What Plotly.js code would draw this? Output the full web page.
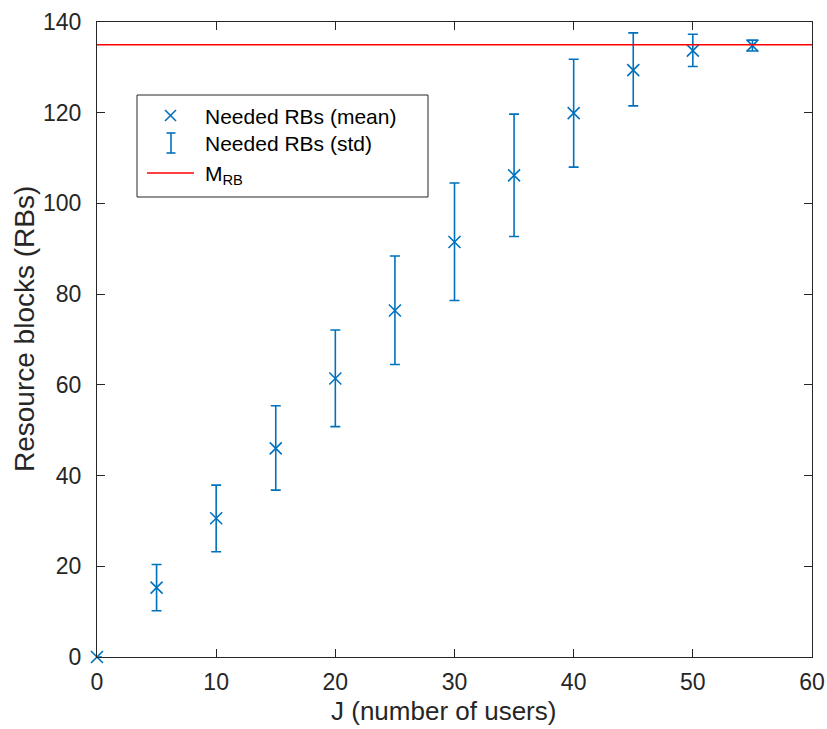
<!DOCTYPE html>
<html>
<head>
<meta charset="utf-8">
<script src="https://cdn.plot.ly/plotly-3.0.1.min.js"></script>
<style>html,body{margin:0;padding:0;background:#fff;}#chart{width:827px;height:729px;}</style>
</head>
<body>
<div id="chart"></div>
<script>
// Data
var users = [0, 5, 10, 15, 20, 25, 30, 35, 40, 45, 50, 55];
var meanRBs = [0, 15.3, 30.6, 46.0, 61.4, 76.4, 91.5, 106.2, 119.9, 129.4, 133.7, 134.8];
var upperRBs = [0, 20.4, 37.9, 55.4, 72.1, 88.4, 104.5, 119.7, 131.8, 137.6, 137.3, 136.0];
var lowerRBs = [0, 10.2, 23.2, 36.8, 50.8, 64.5, 78.6, 92.7, 108.0, 121.5, 130.2, 133.6];
var mRBx = [0, 60];
var mRBy = [135, 135];
var xTicks = [0, 10, 20, 30, 40, 50, 60];
var yTicks = [0, 20, 40, 60, 80, 100, 120, 140];
var xTitle = 'J (number of users)';
var yTitle = 'Resource blocks (RBs)';
var legendLabels = ['Needed RBs (mean)', 'Needed RBs (std)', 'M<sub>RB</sub>'];

var blue = '#0072BD';
var errPlus = upperRBs.map(function(u, i){ return u - meanRBs[i]; });
var errMinus = lowerRBs.map(function(l, i){ return meanRBs[i] - l; });

var traces = [
  {
    x: users, y: meanRBs, type: 'scatter', mode: 'markers', cliponaxis: false,
    marker: {color: 'rgba(0,0,0,0)', size: 1},
    error_y: {type: 'data', symmetric: false, array: errPlus, arrayminus: errMinus,
              color: blue, thickness: 1.6, width: 5},
    showlegend: false, hoverinfo: 'skip'
  },
  {
    x: users, y: meanRBs, type: 'scatter', mode: 'markers', cliponaxis: false,
    marker: {symbol: 'x-thin-open', size: 12, color: blue, line: {color: blue, width: 1.6}},
    showlegend: false
  },
  {
    x: mRBx, y: mRBy, type: 'scatter', mode: 'lines',
    line: {color: '#FF0000', width: 1.6}, showlegend: false
  }
];

// Manual MATLAB-style legend (paper coordinates derived from pixel geometry)
var L = 97, R = 812, T = 22, B = 657;
function px(x){ return (x - L) / (R - L); }
function py(y){ return (B - y) / (B - T); }

var shapes = [
  {type: 'rect', xref: 'paper', yref: 'paper', x0: px(137), x1: px(428), y0: py(197), y1: py(95),
   line: {color: '#262626', width: 1}, fillcolor: 'white', layer: 'above'},
  // x marker for mean
  {type: 'line', xref: 'paper', yref: 'paper', x0: px(165), x1: px(176), y0: py(110), y1: py(121), line: {color: blue, width: 1.6}},
  {type: 'line', xref: 'paper', yref: 'paper', x0: px(165), x1: px(176), y0: py(121), y1: py(110), line: {color: blue, width: 1.6}},
  // I symbol for std
  {type: 'line', xref: 'paper', yref: 'paper', x0: px(171), x1: px(171), y0: py(133), y1: py(153), line: {color: blue, width: 1.6}},
  {type: 'line', xref: 'paper', yref: 'paper', x0: px(166.5), x1: px(175.5), y0: py(133), y1: py(133), line: {color: blue, width: 1.6}},
  {type: 'line', xref: 'paper', yref: 'paper', x0: px(166.5), x1: px(175.5), y0: py(153), y1: py(153), line: {color: blue, width: 1.6}},
  // red line for M_RB
  {type: 'line', xref: 'paper', yref: 'paper', x0: px(147), x1: px(194), y0: py(173), y1: py(173), line: {color: '#FF0000', width: 1.6}}
];

var fam = 'Liberation Sans, Arial, sans-serif';
var legFont = {family: fam, size: 21, color: '#000'};
var annotations = [
  {xref: 'paper', yref: 'paper', x: px(203), y: py(116), xanchor: 'left', yanchor: 'middle', text: legendLabels[0], showarrow: false, font: legFont},
  {xref: 'paper', yref: 'paper', x: px(203), y: py(143), xanchor: 'left', yanchor: 'middle', text: legendLabels[1], showarrow: false, font: legFont},
  {xref: 'paper', yref: 'paper', x: px(203), y: py(175), xanchor: 'left', yanchor: 'middle', text: legendLabels[2], showarrow: false, font: legFont},
  // axis titles
  {xref: 'paper', yref: 'paper', x: px(443), y: py(711), xanchor: 'center', yanchor: 'middle', text: xTitle, showarrow: false,
   font: {family: fam, size: 26, color: '#262626'}},
  {xref: 'paper', yref: 'paper', x: px(24), y: py(329), xanchor: 'center', yanchor: 'middle', text: yTitle, showarrow: false, textangle: -90,
   font: {family: fam, size: 28, color: '#262626'}}
];

var axFont = {family: fam, size: 23, color: '#262626'};
var layout = {
  width: 827, height: 729,
  margin: {l: 97, r: 15, t: 22, b: 72},
  paper_bgcolor: '#fff', plot_bgcolor: '#fff',
  showlegend: false,
  xaxis: {
    range: [0, 60], tickvals: xTicks,
    ticks: 'inside', ticklen: 8, tickwidth: 1, tickcolor: '#262626',
    showline: true, linecolor: '#262626', linewidth: 1, mirror: 'ticks',
    showgrid: false, zeroline: false, tickfont: axFont, ticklabelstandoff: 4
  },
  yaxis: {
    range: [0, 140], tickvals: yTicks,
    ticks: 'inside', ticklen: 8, tickwidth: 1, tickcolor: '#262626',
    showline: true, linecolor: '#262626', linewidth: 1, mirror: 'ticks',
    showgrid: false, zeroline: false, tickfont: axFont, ticklabelstandoff: 10
  },
  shapes: shapes,
  annotations: annotations
};

Plotly.newPlot('chart', traces, layout, {displayModeBar: false, staticPlot: true});
</script>
</body>
</html>
